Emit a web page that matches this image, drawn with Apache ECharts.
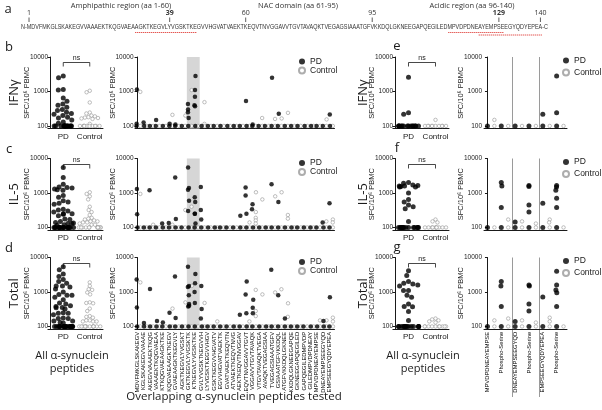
<!DOCTYPE html>
<html><head><meta charset="utf-8">
<script src="https://cdn.jsdelivr.net/npm/echarts@6/dist/echarts.min.js"></script>
<style>html,body{margin:0;padding:0;background:#fff}#c{width:602px;height:410px}</style>
</head><body><div id="c"></div>
<script>
// ---------------- DATA ----------------
const sequence = 'MDVFMKGLSKAKEGVVAAAEKTKQGVAEAAGKTKEGVLYVGSKTKEGVVHGVATVAEKTKEQVTNVGGAVVTGVTAVAQKTVEGAGSIAAATGFVKKDQLGKNEEGAPQEGILEDMPVDPDNEAYEMPSEEGYQDYEPEA';
const seqMarks = [1, 39, 60, 95, 129, 140];
const boldMarks = [39, 129];
const regionNames = ['Amphipathic region (aa 1-60)', 'NAC domain (aa 61-95)', 'Acidic region (aa 96-140)'];
const underlined = [[30, 46], [116, 130], [124, 140]];

const groups = ['PD', 'Control'];
const peptides = ['MDVFMKGLSKAKEGV','KGLSKAKEGVVAAAE','AKEGVVAAAEKTKQG','VAAAEKTKQGVAEAA','KTKQGVAEAAGKTKE','KQGVAEAAGKTKEGV','GVAEAAGKTKEGVLY','AGKTKEGVLYVGSKT','GKTKEGVLYVGSKTK','KTKEGVLYVGSKTKE','GVLYVGSKTKEGVVH','LYVGSKTKEGVVHGV','GSKTKEGVVHGVATV','EGVVHGVATVAEKTK','GVATVAEKTKEQVTN','ATVAEKTKEQVTNVG','AEKTKEQVTNVGGAV','EQVTNVGGAVVTGVT','VGGAVVTGVTAVAQK','VTGVTAVAQKTVEGA','AVAQKTVEGAGSIAA','TVEGAGSIAAATGFV','GSIAAATGFVKKDQL','ATGFVKKDQLGKNEE','KKDQLGKNEEGAPQE','GKNEEGAPQEGILED','GAPQEGILEDMPVDP','GILEDMPVDPDNEAY','MPVDPDNEAYEMPSE','DNEAYEMPSEEGYQD','EMPSEEGYQDYEPEA'];
const shadedPeptides = [8, 9];
const phosphoPeptides = ['MPVDPDNEAYEMPSE','Phospho-Serine','DNEAYEMPSEEGYQD','Phospho-Serine','EMPSEEGYQDYEPEA','Phospho-Serine'];

// all peptides pooled (left dot plots)
const ifnAllPD  = [2800,2500,1150,1100,650,520,430,400,350,300,280,250,230,220,200,180,170,150,130,120,100,100,100,100,100,100,100,100,100,100,100,100,100,100];
const ifnAllCtrl= [1050,950,480,245,230,200,190,180,175,170,165,160,115,100,100,100,100,100,100,100,100,100,100];
const il5AllPD  = [5500,2800,1800,1500,1450,1400,1300,1250,1200,850,750,600,550,500,470,340,320,300,280,250,250,240,220,175,170,150,140,135,130,130,120,115,100,100,100,100,100,100,100,100,100,100,100,100,100,100,100,100];
const il5AllCtrl= [1050,940,800,650,400,320,280,230,190,180,170,160,150,150,140,140,130,120,120,100,100,100,100,100,100,100,100,100,100,100,100];
const totAllPD  = [5400,4400,3300,2800,2300,2000,1800,1500,1500,1400,1230,1000,850,800,800,700,600,480,450,400,380,355,350,320,250,240,240,220,175,170,170,145,145,130,125,100,100,100,100,100,100,100,100,100,100,100,100,100,100,100,100,100,100];
const totAllCtrl= [1900,1500,1200,1150,970,850,500,480,470,330,280,200,190,180,150,150,140,140,140,100,100,100,100,100,100,100,100,100,100,100,100];

// per overlapping peptide
const ifnPepPD = [[1150,115,100],[125,100],[100],[150,100],[100],[115,100],[110,100],[100],[430,300,250,170,100],[2800,1100,700,400,370,100],[100],[100],[100],[100],[100],[100],[100],[530,100],[110,100],[100],[100],[2500,100],[225,100],[100],[100],[100],[100],[100],[100],[100],[215,100]];
const ifnPepCtrl = [[975,100],[100],[100],[100],[100],[210,100],[100],[200,100],[1100,100],[100],[490,115,100],[100],[100],[100],[100],[100],[100],[100],[100],[170,100],[100],[160,100],[165,100],[240,100],[100],[100],[100],[100],[100],[155,100],[100]];
const il5PepPD = [[1300,240,100],[100],[1200,100],[100],[130,100],[135,100],[2800,175,100],[100],[5500,1400,1250,600,300,100],[750,550,250,250,130,100],[1500,320,170,100],[100],[100],[100],[100],[100],[220,100],[1450,850,250,100],[470,340,100],[100],[100],[1800,100],[550,100],[100],[100],[100],[100],[100],[100],[140,100],[500,100]];
const il5PepCtrl = [[940,100],[100],[120,100],[100],[100],[120,100],[100],[320,100],[400,100],[100],[100],[100],[100],[100],[100],[100],[100],[140,100],[1050,280,190,160,130,100],[650,100],[100],[800,100],[1050,100],[230,180,100],[100],[100],[100],[100],[100],[150,100],[170,140,100]];
const totPepPD = [[2300,355,100],[125,100],[1230,100],[145,100],[130,100],[250,100],[2800,175,100],[100],[5400,1500,1400,800,450,400,380,100],[3300,1800,1000,480,100],[1500,320,170,100],[100],[100],[100],[100],[100],[220,100],[2000,850,240,100],[600,350,240,100],[100],[100],[4400,100],[800,100],[170,100],[100],[100],[100],[100],[100],[145,100],[700,100]];
const totPepCtrl = [[1900,100],[100],[100],[100],[100],[330,100],[100],[500,100],[1500,100],[100],[480,100],[100],[140,100],[100],[100],[100],[100],[140,100],[1150,280,200,100],[850,100],[100],[970,100],[1200,100],[470,190,100],[100],[100],[100],[100],[150,100],[150,100],[180,140,100]];

// acidic-region peptides (e, f, g)
const ifnAcidAllPD = [2600,240,220,100,100,100,100,100,100,100,100,100,100,100,100,100,100];
const ifnAcidAllCtrl = [150,100,100,100,100,100,100,100,100,100,100];
const il5AcidAllPD = [2000,1900,1700,1650,1600,1600,1550,1500,1500,1000,650,550,450,400,350,150,100,100,100,100,100,100,100,100,100,100,100,100,100,100];
const il5AcidAllCtrl = [170,150,140,100,100,100,100,100,100,100,100,100,100];
const totAcidAllPD = [4100,3000,2000,1800,1700,1600,1500,1100,1100,800,700,450,380,370,270,150,100,100,100,100,100,100,100,100,100,100,100,100,100,100];
const totAcidAllCtrl = [170,160,150,140,130,100,100,100,100,100,100,100,100,100,100];
const ifnAcidPD = [[100],[100],[100],[100],[220,100],[2800,240,100]];
const ifnAcidCtrl = [[150,100],[100],[100],[100],[100],[100]];
const il5AcidPD = [[100],[2000,1600,380,100],[145,100],[1650,1550,450,280,100],[500,100],[1650,1500,1200,700,380,100]];
const il5AcidCtrl = [[100],[170,100],[150,100],[130,100],[170,140,100],[100]];
const totAcidPD = [[100],[2000,1500,380,100],[140,100],[1600,1500,450,280,100],[720,100],[4000,1600,1150,950,380,100]];
const totAcidCtrl = [[150,100],[170,100],[150,100],[130,100],[180,140,100],[100]];

const rowNames = ['IFNγ', 'IL-5', 'Total'];
const panelLetters = [['b','e'],['c','f'],['d','g']];

// ---------------- BUILD ----------------
const AX = '"Liberation Sans", Arial, sans-serif';
const TX = '"Open Sans", "Liberation Sans", sans-serif';
const INK = '#1a1a1a';
const tops = [57, 158.5, 257.5], H = 71.4;
const colDefs = [{left:50,width:53},{left:135.5,width:199},{left:395,width:54},{left:484,width:83}];
const grids = [], xAxes = [], yAxes = [], series = [], legends = [];
const dotInfo = [], pepInfo = [];

function yAx(g){
  return {type:'log', gridIndex:g, min:85, max:10000,
    axisLine:{show:true, lineStyle:{color:INK,width:1}},
    axisTick:{show:true, length:2.5, lineStyle:{color:INK}},
    axisLabel:{fontSize:6.5, color:INK, margin:2, fontFamily:AX,
      formatter: v => { const r = Math.round(v); return (r===100||r===1000||r===10000) ? String(r) : ''; }},
    splitLine:{show:false},
    name:'SFC/10⁶ PBMC', nameLocation:'middle', nameRotate:90, nameGap:19, nameMoveOverlap:false,
    nameTextStyle:{fontSize:7.5, color:INK, fontFamily:AX}};
}
function pdSeries(xi, yi, data, size){
  return {type:'scatter', name:'PD', xAxisIndex:xi, yAxisIndex:yi, data, symbolSize:size, z:4,
    itemStyle:{color:'#000'}, emphasis:{disabled:true}};
}
function ctrlSeries(xi, yi, data){
  return {type:'scatter', name:'Control', xAxisIndex:xi, yAxisIndex:yi, data, symbolSize:3.5, z:3,
    itemStyle:{color:'#fff', borderColor:'#999', borderWidth:0.8}, emphasis:{disabled:true}};
}
function addGrid(r, c){
  grids.push({left:colDefs[c].left, top:tops[r], width:colDefs[c].width, height:H});
  return grids.length - 1;
}
function dotPlot(r, c, pd, ctrl){
  const g = addGrid(r, c);
  const xi = xAxes.length;
  xAxes.push({type:'category', gridIndex:g, data:groups, jitter:22, jitterOverlap:false, jitterMargin:0,
    axisLine:{lineStyle:{color:INK}}, axisTick:{alignWithLabel:true, length:2.5, lineStyle:{color:INK}},
    axisLabel:{interval:0, fontSize:8, color:INK, margin:4, fontFamily:AX, hideOverlap:false}});
  const yi = yAxes.length; yAxes.push(yAx(g));
  series.push(pdSeries(xi, yi, pd.map(v => [0, v]), 5));
  series.push(ctrlSeries(xi, yi, ctrl.map(v => [1, v])));
  dotInfo.push({g, xi, yi, r});
}
function pepPlot(r, c, names, pd, ctrl, showLabels, jit, size, shade, dividers){
  const g = addGrid(r, c);
  const keys = [];
  names.forEach((n, i) => { keys.push('PD|' + i); keys.push('Control|' + i); });
  const xi = xAxes.length;
  xAxes.push({type:'category', gridIndex:g, data:keys, jitter:jit, jitterOverlap:false, jitterMargin:0,
    axisLine:{lineStyle:{color:INK}}, axisTick:{alignWithLabel:true, interval:0, length:2, lineStyle:{color:INK}},
    axisLabel:{show:showLabels, interval:0, rotate:90, fontSize:5.8, color:'#000', margin:3, fontFamily:AX,
      formatter:(v, i) => (i % 2 === 0 ? names[i/2] : '')}});
  const hx = xAxes.length;
  xAxes.push({type:'value', gridIndex:g, min:-0.5, max:keys.length - 0.5, show:false, splitLine:{show:false}});
  const yi = yAxes.length; yAxes.push(yAx(g));
  const dp = [], dc = [];
  pd.forEach((arr, i) => arr.forEach(v => dp.push([2*i, v])));
  ctrl.forEach((arr, i) => arr.forEach(v => dc.push([2*i+1, v])));
  if (shade) {
    series.push({type:'scatter', xAxisIndex:hx, yAxisIndex:yi, data:[], silent:true, z:1,
      markArea:{silent:true, itemStyle:{color:'#d6d6d6'},
        data:[[{xAxis:2*shade[0]-0.5},{xAxis:2*shade[shade.length-1]+1.5}]]}});
  }
  series.push(pdSeries(xi, yi, dp, size));
  series.push(ctrlSeries(xi, yi, dc));
  pepInfo.push({g, xi, hx, yi, r, c, dividers});
}

const allPD = [ifnAllPD, il5AllPD, totAllPD], allCtrl = [ifnAllCtrl, il5AllCtrl, totAllCtrl];
const pepPD = [ifnPepPD, il5PepPD, totPepPD], pepCtrl = [ifnPepCtrl, il5PepCtrl, totPepCtrl];
const acAllPD = [ifnAcidAllPD, il5AcidAllPD, totAcidAllPD], acAllCtrl = [ifnAcidAllCtrl, il5AcidAllCtrl, totAcidAllCtrl];
const acPD = [ifnAcidPD, il5AcidPD, totAcidPD], acCtrl = [ifnAcidCtrl, il5AcidCtrl, totAcidCtrl];

for (let r = 0; r < 3; r++) {
  dotPlot(r, 0, allPD[r], allCtrl[r]);
  pepPlot(r, 1, peptides, pepPD[r], pepCtrl[r], r === 2, 3, 4.5, shadedPeptides, null);
  dotPlot(r, 2, acAllPD[r], acAllCtrl[r]);
  pepPlot(r, 3, phosphoPeptides, acPD[r], acCtrl[r], r === 2, 5, 5, null, [1, 3]);
  legends.push({data:groups, orient:'vertical', left:298, top:tops[r], itemGap:0, itemWidth:6, itemHeight:6, padding:0,
    selectedMode:false, textStyle:{fontSize:8.5, color:INK, fontFamily:AX, lineHeight:8}});
  legends.push({data:groups, orient:'vertical', left:562, top:tops[r]-1, itemGap:3, itemWidth:6, itemHeight:6, padding:0,
    selectedMode:false, textStyle:{fontSize:8.5, color:INK, fontFamily:AX, lineHeight:9}});
}

const chart = echarts.init(document.getElementById('c'), null, {renderer:'canvas'});
chart.setOption({
  animation:false, backgroundColor:'#fff',
  grid:grids, xAxis:xAxes, yAxis:yAxes, series, legend:legends
});

// ---------------- ANNOTATIONS ----------------
const gfx = [];
function txt(x, y, s, size, opts) {
  opts = opts || {};
  return Object.assign({type:'text', x, y, silent:true, style:{text:s, fontSize:size, fontFamily:opts.family || TX,
    fontWeight:opts.weight || 'normal', fill:opts.fill || INK,
    align:opts.align || 'center', textAlign:opts.align || 'center',
    verticalAlign:opts.valign || 'middle', textVerticalAlign:opts.valign || 'middle'}},
    opts.rot ? {rotation:opts.rot} : {});
}
function line(x1, y1, x2, y2, color, w, dash) {
  return {type:'line', silent:true, shape:{x1, y1, x2, y2},
    style:{stroke:color || INK, lineWidth:w || 1, lineDash:dash || null}};
}

// panel letters and row labels
gfx.push(txt(8, 9, 'a', 13, {}));
const letterY = [47, 149, 248];
for (let r = 0; r < 3; r++) {
  gfx.push(txt(9, letterY[r], panelLetters[r][0], 13, {}));
  gfx.push(txt(397, letterY[r] - 1, panelLetters[r][1], 13, {}));
  const cy = tops[r] + H/2;
  gfx.push(txt(14, cy, rowNames[r], 13, {rot:Math.PI/2}));
  gfx.push(txt(363, cy, rowNames[r], 13, {rot:Math.PI/2}));
}
// ns brackets
dotInfo.forEach(d => {
  const p0 = chart.convertToPixel({xAxisIndex:d.xi, yAxisIndex:d.yi}, [0, 7000]);
  const p1 = chart.convertToPixel({xAxisIndex:d.xi, yAxisIndex:d.yi}, [1, 7000]);
  const y = Math.round(p0[1]) + 0.5;
  gfx.push(line(p0[0], y, p1[0], y, INK, 0.8));
  gfx.push(line(p0[0], y, p0[0], y + 4, INK, 0.8));
  gfx.push(line(p1[0], y, p1[0], y + 4, INK, 0.8));
  gfx.push(txt((p0[0] + p1[0]) / 2, y - 0.5, 'ns', 7, {family:AX, valign:'bottom'}));
});
// divider lines in acidic panels
pepInfo.forEach(p => {
  if (!p.dividers) return;
  const yTop = tops[p.r], yBot = p.r === 2 ? 397 : tops[p.r] + H;
  p.dividers.forEach(k => {
    const x = Math.round(chart.convertToPixel({xAxisIndex:p.hx}, 2*k + 1.5)) + 0.5;
    gfx.push(line(x, yTop, x, yBot, '#9a9a9a', 1));
  });
});
// bottom captions
gfx.push(txt(72, 356, 'All α-synuclein', 11, {}));
gfx.push(txt(72, 369, 'peptides', 11, {}));
gfx.push(txt(423, 356, 'All α-synuclein', 11, {}));
gfx.push(txt(423, 369, 'peptides', 11, {}));
gfx.push(txt(234, 397, 'Overlapping α-synuclein peptides tested', 11.5, {}));

// panel a: sequence
const seqText = 'N-' + sequence + '-C';
const seqFont = '7px "Liberation Sans", Arial, sans-serif';
const ctx = document.createElement('canvas').getContext('2d');
ctx.font = seqFont;
const natural = ctx.measureText(seqText).width;
const SEQ_X0 = 21, SEQ_X1 = 548, SEQ_Y = 27;
const sx = (SEQ_X1 - SEQ_X0) / natural;
function resX(n) {
  const pre = seqText.slice(0, n + 1), ch = seqText[n + 1];
  return SEQ_X0 + sx * (ctx.measureText(pre).width + ctx.measureText(ch).width / 2);
}
gfx.push({type:'text', x:SEQ_X0, y:SEQ_Y, scaleX:sx, silent:true,
  style:{text:seqText, font:seqFont, fill:'#333', align:'left', textAlign:'left', verticalAlign:'middle', textVerticalAlign:'middle'}});
seqMarks.forEach(n => {
  const x = resX(n);
  const b = boldMarks.indexOf(n) >= 0;
  gfx.push(txt(x, 13, String(n), 7, {family:TX, weight:b ? 'bold' : 'normal', fill:'#333'}));
  gfx.push(line(x, 17.5, x, 22, '#333', 0.8));
});
underlined.forEach((u, i) => {
  const y = i === 2 ? 35 : 32.5;
  gfx.push(line(resX(u[0]) - 1.5, y, resX(u[1]) + 1.5, y, '#e0403c', 1, [1.2, 0.8]));
});
const regionX = [121, 298, 472];
regionNames.forEach((s, i) => gfx.push(txt(regionX[i], 6, s, 7.5, {fill:'#333'})));

chart.setOption({graphic:{elements:gfx}});
</script></body></html>
